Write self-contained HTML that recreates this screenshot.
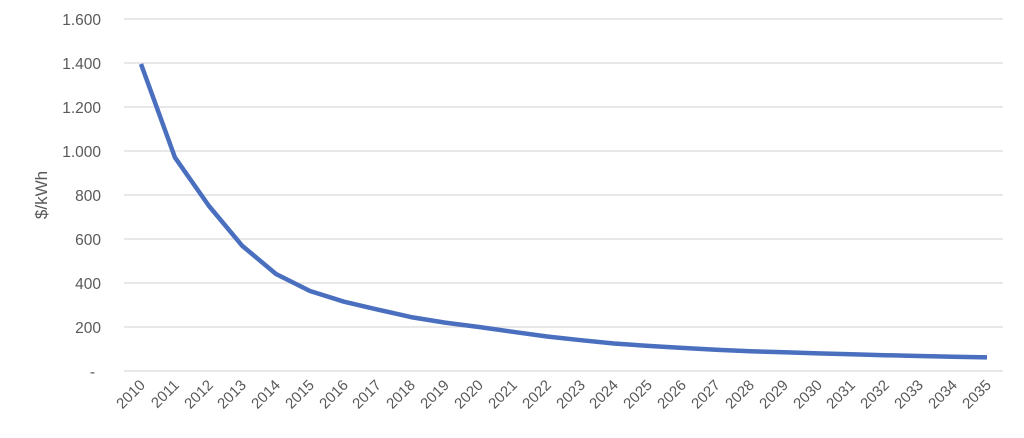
<!DOCTYPE html>
<html><head><meta charset="utf-8"><style>
html,body{margin:0;padding:0;background:#fff;}
svg{display:block;font-family:"Liberation Sans",sans-serif;}
</style></head><body>
<svg width="1024" height="438" viewBox="0 0 1024 438">
<rect width="1024" height="438" fill="#fff"/>
<g stroke="#d9d9d9" stroke-width="1.3">
<line x1="124" x2="1003" y1="19" y2="19"/>
<line x1="124" x2="1003" y1="63" y2="63"/>
<line x1="124" x2="1003" y1="107" y2="107"/>
<line x1="124" x2="1003" y1="151" y2="151"/>
<line x1="124" x2="1003" y1="195" y2="195"/>
<line x1="124" x2="1003" y1="239" y2="239"/>
<line x1="124" x2="1003" y1="283" y2="283"/>
<line x1="124" x2="1003" y1="327" y2="327"/>
<line x1="124" x2="1003" y1="371" y2="371"/>
</g>
<g fill="#595959" font-size="15.5" text-anchor="end">
<text x="101" y="25">1.600</text>
<text x="101" y="69">1.400</text>
<text x="101" y="113">1.200</text>
<text x="101" y="157">1.000</text>
<text x="101" y="201">800</text>
<text x="101" y="245">600</text>
<text x="101" y="289">400</text>
<text x="101" y="333">200</text>
<text x="95" y="377">-</text>
</g>
<text transform="translate(47,195) rotate(-90)" text-anchor="middle" fill="#595959" font-size="17">$/kWh</text>
<polyline fill="none" stroke="#4a6fbf" stroke-width="4.5" stroke-linejoin="round" stroke-linecap="butt"
points="141,64 175,157.6 209,206 242,245.6 276,274 310,291 344,301.7 377,309.4 411,317.1 445,322.6 479,327 513,331.8 547,336.5 581,340.2 614,343.5 648,345.9 682,347.9 716,349.7 750,351.2 784,352.3 818,353.4 851,354.3 885,355.2 919,356 953,356.7 987,357.4"/>
<g fill="#595959" font-size="15" text-anchor="end">
<text transform="translate(146,386) rotate(-45)">2010</text>
<text transform="translate(180,386) rotate(-45)">2011</text>
<text transform="translate(214,386) rotate(-45)">2012</text>
<text transform="translate(247,386) rotate(-45)">2013</text>
<text transform="translate(281,386) rotate(-45)">2014</text>
<text transform="translate(315,386) rotate(-45)">2015</text>
<text transform="translate(349,386) rotate(-45)">2016</text>
<text transform="translate(382,386) rotate(-45)">2017</text>
<text transform="translate(416,386) rotate(-45)">2018</text>
<text transform="translate(450,386) rotate(-45)">2019</text>
<text transform="translate(484,386) rotate(-45)">2020</text>
<text transform="translate(518,386) rotate(-45)">2021</text>
<text transform="translate(552,386) rotate(-45)">2022</text>
<text transform="translate(586,386) rotate(-45)">2023</text>
<text transform="translate(619,386) rotate(-45)">2024</text>
<text transform="translate(653,386) rotate(-45)">2025</text>
<text transform="translate(687,386) rotate(-45)">2026</text>
<text transform="translate(721,386) rotate(-45)">2027</text>
<text transform="translate(755,386) rotate(-45)">2028</text>
<text transform="translate(789,386) rotate(-45)">2029</text>
<text transform="translate(823,386) rotate(-45)">2030</text>
<text transform="translate(856,386) rotate(-45)">2031</text>
<text transform="translate(890,386) rotate(-45)">2032</text>
<text transform="translate(924,386) rotate(-45)">2033</text>
<text transform="translate(958,386) rotate(-45)">2034</text>
<text transform="translate(992,386) rotate(-45)">2035</text>
</g>
</svg>
</body></html>
